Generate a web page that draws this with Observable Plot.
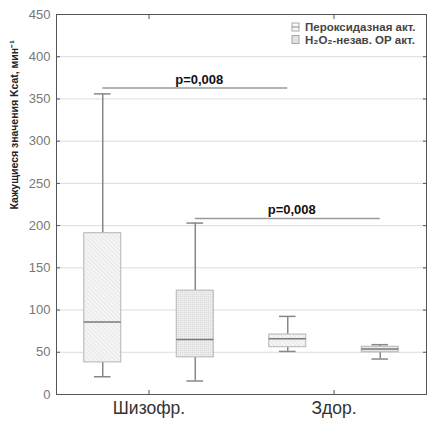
<!DOCTYPE html>
<html><head><meta charset="utf-8">
<script src="https://cdn.jsdelivr.net/npm/d3@7"></script>
<script src="https://cdn.jsdelivr.net/npm/@observablehq/plot@0.6"></script>
<style>body{margin:0;background:#fff;} svg{display:block;}</style>
</head><body>
<script>
const categories = ["Шизофр.", "Здор."];
const series = ["Пероксидазная акт.", "H₂O₂-незав. ОР акт."];
// order: [cat0-ser0, cat0-ser1, cat1-ser0, cat1-ser1]
const mins    = [21, 16, 51, 42];
const q1s     = [38, 44, 56, 50];
const medians = [86, 65, 66, 54];
const q3s     = [191, 123, 71, 56.5];
const maxs    = [356, 203, 92.5, 59];
const pFrom   = [0, 1];
const pTo     = [2, 3];
const pLevel  = [363, 208.5];
const pLabels = ["p=0,008", "p=0,008"];
const yTicks  = [0, 50, 100, 150, 200, 250, 300, 350, 400, 450];
const yLabel  = "Кажущиеся значения Kcat, мин⁻¹";

const patterns = ["url(#hatchA)", "url(#dotB)"];
const boxes = mins.map((m, i) => ({
  cat: categories[Math.floor(i / 2)], ser: i % 2, pos: i + 0.5,
  min: m, q1: q1s[i], med: medians[i], q3: q3s[i], max: maxs[i],
  fill: patterns[i % 2]
}));
const hw = 0.2, cap = 0.09;
const pairs = pFrom.map((f, i) => ({x1: f + 0.5, x2: pTo[i] + 0.5, y: pLevel[i], label: pLabels[i]}));
const catPos = categories.map((c, i) => 2 * i + 1);
const font = "Liberation Sans, Arial, sans-serif";

const plot = Plot.plot({
  width: 427, height: 421,
  marginLeft: 56, marginRight: 1, marginTop: 14, marginBottom: 27,
  style: {fontFamily: font, background: "#fff"},
  x: {domain: [0, 4], axis: null},
  y: {domain: [0, 450], axis: null},
  color: {type: "identity"},
  marks: [
    Plot.gridY(yTicks.filter(t => t > 0 && t < 450), {stroke: "#dcdcdc", strokeOpacity: 1}),
    Plot.axisY(yTicks, {tickSize: 0, tickPadding: 6, fill: "#777", fontSize: 13, label: null}),
    Plot.axisY(yTicks, {anchor: "left", tickSize: 4, dx: 4, stroke: "#555", tickFormat: () => "", label: null}),
    Plot.axisY(yTicks, {anchor: "right", tickSize: 4, dx: -4, stroke: "#555", tickFormat: () => "", label: null}),
    Plot.axisX(catPos, {anchor: "top", tickSize: 4, dy: 4, stroke: "#555", tickFormat: () => "", label: null}),
    Plot.axisX(catPos, {anchor: "bottom", tickSize: 4, dy: -4, stroke: "#555", tickFormat: () => "", label: null}),
    Plot.axisX(catPos, {anchor: "bottom", tickSize: 0, tickPadding: 7, fontSize: 17.5, fill: "#333",
      tickFormat: d => categories[(d - 1) / 2], label: null}),
    Plot.ruleX(boxes, {x: "pos", y1: "q3", y2: "max", stroke: "#888", strokeWidth: 1.5}),
    Plot.ruleX(boxes, {x: "pos", y1: "min", y2: "q1", stroke: "#888", strokeWidth: 1.5}),
    Plot.ruleY(boxes, {y: "max", x1: d => d.pos - cap, x2: d => d.pos + cap, stroke: "#888", strokeWidth: 1.5}),
    Plot.ruleY(boxes, {y: "min", x1: d => d.pos - cap, x2: d => d.pos + cap, stroke: "#888", strokeWidth: 1.5}),
    Plot.rect(boxes, {x1: d => d.pos - hw, x2: d => d.pos + hw, y1: "q1", y2: "q3", fill: "fill", stroke: "#b4b4b4", strokeWidth: 1}),
    Plot.ruleY(boxes, {y: "med", x1: d => d.pos - hw, x2: d => d.pos + hw, stroke: "#7a7a7a", strokeWidth: 1.5}),
    Plot.ruleY(pairs, {y: "y", x1: "x1", x2: "x2", stroke: "#9a9a9a", strokeWidth: 1.5}),
    Plot.text(pairs, {x: d => (d.x1 + d.x2) / 2, y: "y", text: "label", lineAnchor: "bottom", dy: -4, dx: 4,
      fontWeight: "bold", fontSize: 13, fill: "#111"}),
    Plot.frame({stroke: "#555"}),
    Plot.text([yLabel], {frameAnchor: "left", rotate: -90, dx: -42, dy: 5, fontWeight: "bold", fontSize: 10.5, fill: "#222"})
  ]
});

const svg = d3.select(plot);
const defs = svg.insert("defs", ":first-child");
const pa = defs.append("pattern").attr("id", "hatchA").attr("patternUnits", "userSpaceOnUse")
  .attr("width", 3).attr("height", 3).attr("patternTransform", "rotate(-45)");
pa.append("rect").attr("width", 3).attr("height", 3).attr("fill", "#f5f5f5");
pa.append("line").attr("x1", 0).attr("y1", 0).attr("x2", 0).attr("y2", 3).attr("stroke", "#dadada").attr("stroke-width", 1);
const pb = defs.append("pattern").attr("id", "dotB").attr("patternUnits", "userSpaceOnUse")
  .attr("width", 2).attr("height", 2);
pb.append("rect").attr("width", 2).attr("height", 2).attr("fill", "#ececec");
pb.append("rect").attr("width", 1).attr("height", 1).attr("fill", "#dadada");

const lg = svg.append("g").attr("font-family", font).style("font-size", "11.5px").attr("font-weight", "bold")
  .attr("fill", "#444").attr("text-anchor", "start");
series.forEach((s, i) => {
  const cy = 27 + i * 12.5;
  lg.append("rect").attr("x", 292).attr("y", cy - 4).attr("width", 7).attr("height", 8)
    .attr("fill", i === 0 ? "#fafafa" : "#e2e2e2").attr("stroke", "#a8a8a8");
  if (i === 0) lg.append("line").attr("x1", 292).attr("x2", 299).attr("y1", cy).attr("y2", cy).attr("stroke", "#888");
  lg.append("text").attr("x", 305).attr("y", cy).attr("dy", "0.35em").attr("text-anchor", "start").text(s);
});

document.body.appendChild(plot);
</script>
</body></html>
